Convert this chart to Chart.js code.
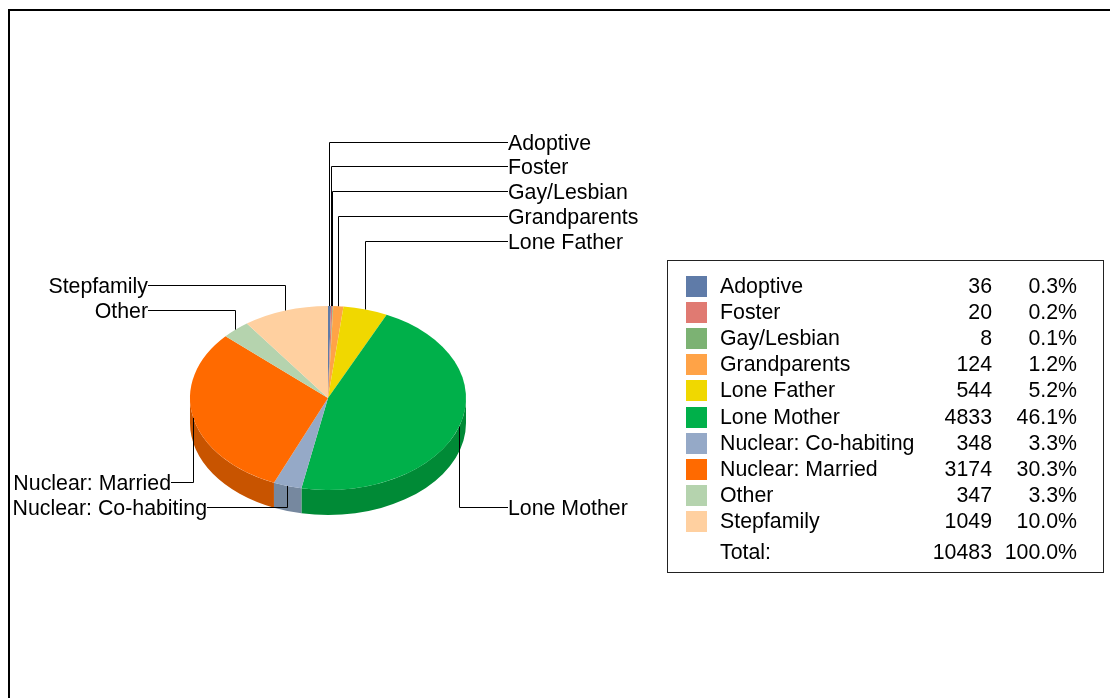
<!DOCTYPE html>
<html>
<head>
<meta charset="utf-8">
<title>Family types</title>
<script src="https://cdn.jsdelivr.net/npm/chart.js@4"></script>
<style>
  html, body { margin: 0; padding: 0; background: #fff; overflow: hidden; }
  canvas { display: block; }
</style>
</head>
<body>
<canvas id="familyChart" width="1110" height="698"></canvas>
<script>
const categories = ["Adoptive", "Foster", "Gay/Lesbian", "Grandparents", "Lone Father", "Lone Mother",
    "Nuclear: Co-habiting", "Nuclear: Married", "Other", "Stepfamily"];
const counts = [36, 20, 8, 124, 544, 4833, 348, 3174, 347, 1049];
const sliceColors = ["#5f7ba8", "#e07a72", "#7cb273", "#ffa347", "#f0d800", "#00b04a",
    "#95a9c7", "#ff6a00", "#b5d3ae", "#ffd0a0"];
const wallColors = ["#4c6286", "#b3625b", "#638e5c", "#cc8239", "#c0ad00", "#008a36",
    "#76889f", "#c85400", "#91a98b", "#cca680"];

const FONT = '21.33px "Liberation Sans", Arial, sans-serif';
const SQUASH = 2 / 3;   // tilt of the pie
const DEPTH = 25;       // height of the side wall

// where each callout label sits: [label x, label y, text align]
const callouts = {
    "Adoptive": [508, 143, "left"],
    "Foster": [508, 167, "left"],
    "Gay/Lesbian": [508, 192, "left"],
    "Grandparents": [508, 217, "left"],
    "Lone Father": [508, 242, "left"],
    "Lone Mother": [508, 508, "left"],
    "Nuclear: Co-habiting": [207, 508, "right"],
    "Nuclear: Married": [171, 483, "right"],
    "Other": [148, 311, "right"],
    "Stepfamily": [148, 286, "right"],
};

const total = counts.reduce((a, b) => a + b, 0);
const pct = (v) => (v / total * 100).toFixed(1) + "%";

// squashes the pie into an ellipse and draws the wall below it
const tiltPlugin = {
    id: "tilt",
    beforeDatasetsDraw(chart) {
        const ctx = chart.ctx;
        const arcs = chart.getDatasetMeta(0).data;
        const { x: cx, y: cy, outerRadius: r } = arcs[0];
        const ry = r * SQUASH;

        ctx.save();
        arcs.forEach((arc, i) => {
            const from = Math.max(arc.startAngle, 0);
            const to = Math.min(arc.endAngle, Math.PI);
            if (to <= from) return;
            ctx.beginPath();
            ctx.ellipse(cx, cy, r, ry, 0, from, to);
            ctx.ellipse(cx, cy + DEPTH, r, ry, 0, to, from, true);
            ctx.closePath();
            ctx.fillStyle = wallColors[i];
            ctx.fill();
        });
        ctx.restore();

        ctx.save();
        ctx.translate(cx, cy);
        ctx.scale(1, SQUASH);
        ctx.translate(-cx, -cy);
    },
    afterDatasetsDraw(chart) {
        chart.ctx.restore();
    },
};

// elbow lines from each slice out to its label
const calloutPlugin = {
    id: "callouts",
    afterDraw(chart) {
        const ctx = chart.ctx;
        const arcs = chart.getDatasetMeta(0).data;
        ctx.save();
        ctx.font = FONT;
        ctx.textBaseline = "middle";
        ctx.strokeStyle = "#000";
        ctx.lineWidth = 1;
        arcs.forEach((arc, i) => {
            const name = categories[i];
            const [lx, ly, align] = callouts[name];
            const mid = (arc.startAngle + arc.endAngle) / 2;
            const ax = Math.floor(arc.x + arc.outerRadius * Math.cos(mid)) + 0.5;
            const ay = arc.y + arc.outerRadius * SQUASH * Math.sin(mid);
            ctx.beginPath();
            ctx.moveTo(lx, ly - 0.5);
            ctx.lineTo(ax, ly - 0.5);
            ctx.lineTo(ax, ay);
            ctx.stroke();
            ctx.fillStyle = "#000";
            ctx.textAlign = align;
            ctx.fillText(name, lx, ly + 1);
        });
        ctx.restore();
    },
};

// outer frame and the key table on the right
const framePlugin = {
    id: "frame",
    afterDraw(chart) {
        const ctx = chart.ctx;
        ctx.save();
        ctx.fillStyle = "#000";
        ctx.fillRect(8, 9, 1102, 2);
        ctx.fillRect(8, 9, 2, 689);

        ctx.strokeStyle = "#222";
        ctx.lineWidth = 1;
        ctx.strokeRect(667.5, 260.5, 436, 312);

        ctx.font = FONT;
        ctx.textBaseline = "middle";
        categories.forEach((name, i) => {
            const y = 286 + Math.round(i * 26.1);
            ctx.fillStyle = sliceColors[i];
            ctx.fillRect(686, y - 10, 21, 21);
            ctx.fillStyle = "#000";
            ctx.textAlign = "left";
            ctx.fillText(name, 720, y + 1);
            ctx.textAlign = "right";
            ctx.fillText(String(counts[i]), 992, y + 1);
            ctx.fillText(pct(counts[i]), 1077, y + 1);
        });
        ctx.textAlign = "left";
        ctx.fillText("Total:", 720, 553);
        ctx.textAlign = "right";
        ctx.fillText(String(total), 992, 553);
        ctx.fillText("100.0%", 1077, 553);
        ctx.restore();
    },
};

new Chart(document.getElementById("familyChart"), {
    type: "pie",
    data: {
        labels: categories,
        datasets: [{
            data: counts,
            backgroundColor: sliceColors,
            borderWidth: 0,
        }],
    },
    options: {
        responsive: false,
        animation: false,
        layout: { padding: { left: 190, right: 644, top: 260, bottom: 162 } },
        plugins: {
            legend: { display: false },
            tooltip: { enabled: false },
        },
    },
    plugins: [tiltPlugin, calloutPlugin, framePlugin],
});
</script>
</body>
</html>
